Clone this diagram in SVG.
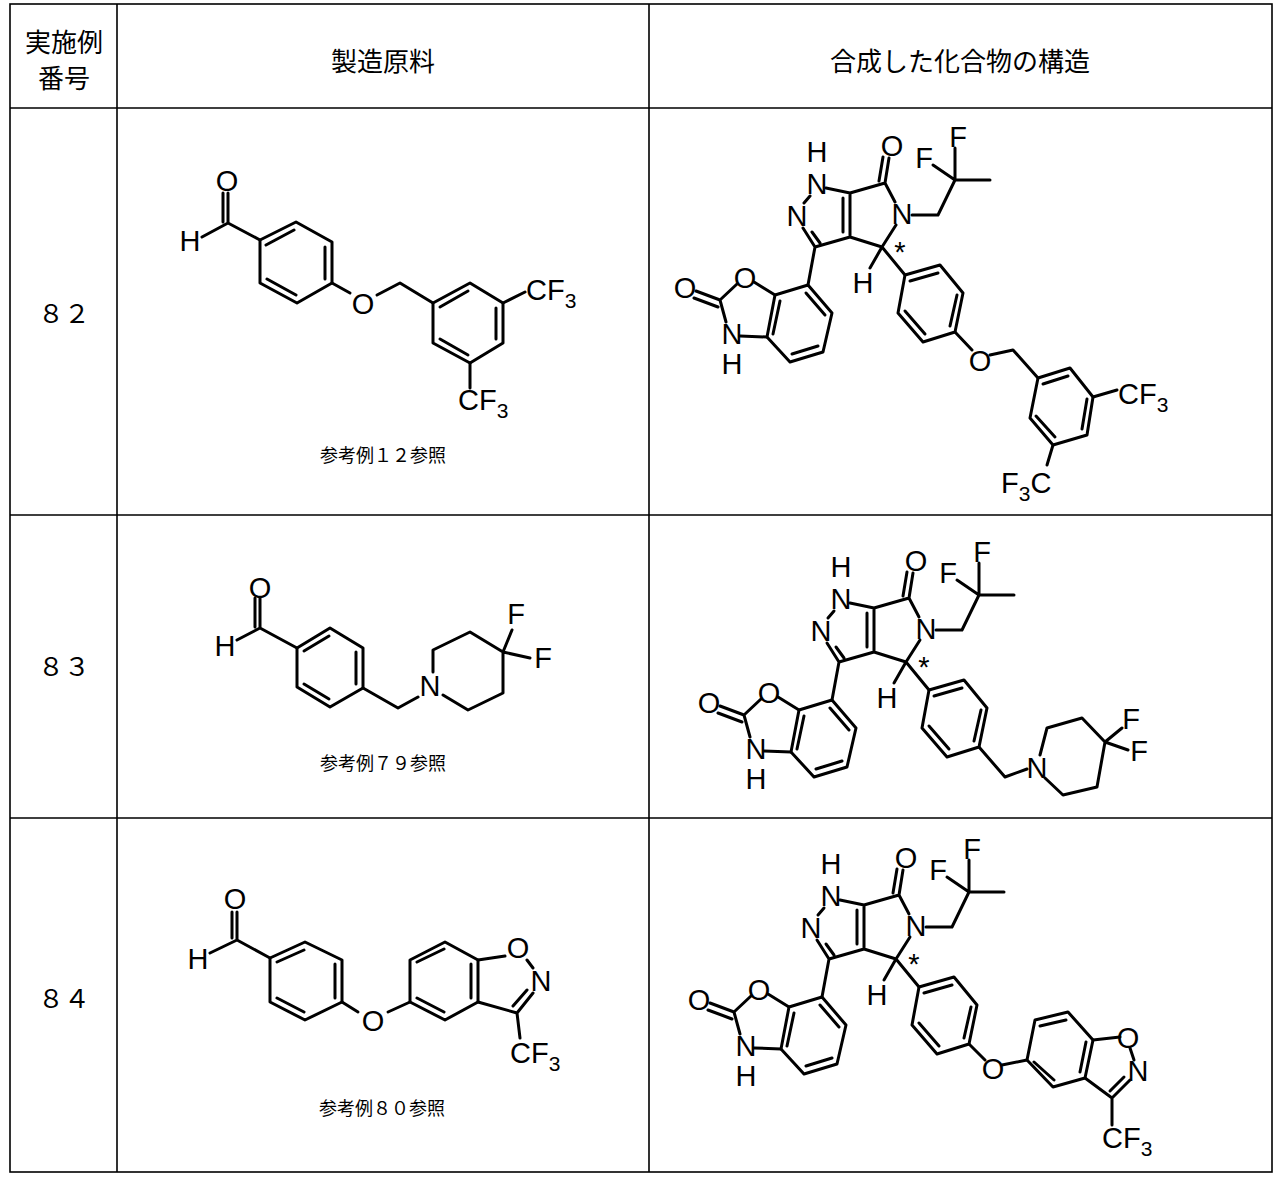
<svg xmlns="http://www.w3.org/2000/svg" xmlns:xlink="http://www.w3.org/1999/xlink" width="1285" height="1180" viewBox="0 0 1285 1180">
<style>
.b{stroke:#000;stroke-width:3;fill:none;stroke-linecap:round;stroke-linejoin:round}
.t{stroke:#000;stroke-width:1.6;fill:none}
.a{font-family:"Liberation Sans",Arial,sans-serif;font-size:29px;fill:#000;text-anchor:middle}
.as{font-family:"Liberation Sans",Arial,sans-serif;font-size:29px;fill:#000}
.j{font-family:"Liberation Serif","Noto Sans CJK JP",serif;font-size:26px;fill:#000;text-anchor:middle}
.c{font-family:"Liberation Serif","Noto Sans CJK JP",serif;font-size:18px;fill:#000;text-anchor:middle}
</style>
<defs>
<g id="core">
<path class="b" d="M826,188L850,193M810,196L804,203M803,228L815,247M812,232L820,243M815,247L850,237L850,193L885,183M843,232L843,198M885,183L889,158M879,181L883,157M885,183L895,202M896,225L882,247L850,237M912,215L938,215L955,180L990,180M955,180L933,165M955,180L955,148M882,247L870,268M882,247L905,275M815,247L808,285"/>
<path class="b" d="M808,285L832,313L823,352L790,362L767,337L775,295Z M806,293L825,315 M818,346L792,354 M773,334L780,301"/>
<path class="b" d="M775,295L754,282M737,284L720,300L726,322M740,336L767,337M720,300L696,291M718,307L694,298"/>
<path class="b" d="M905,275L940,265L963,293L955,332L923,342L898,313Z M910,281L938,273 M957,295L950,326 M925,334L905,311"/>
<text class="a" x="817" y="162">H</text>
<text class="a" x="817" y="194">N</text>
<text class="a" x="797" y="226">N</text>
<text class="a" x="902" y="224">N</text>
<text class="a" x="892" y="156">O</text>
<text class="a" x="924" y="168">F</text>
<text class="a" x="958" y="147">F</text>
<text class="a" x="900" y="262" font-size="34">*</text>
<text class="a" x="863" y="293">H</text>
<text class="a" x="745" y="288">O</text>
<text class="a" x="685" y="298">O</text>
<text class="a" x="732" y="344">N</text>
<text class="a" x="732" y="374">H</text>
</g>
</defs>
<g id="table">
<rect class="t" x="10" y="4" width="1262" height="1168"/>
<path class="t" d="M117,4V1172M649,4V1172M10,108H1272M10,515H1272M10,818H1272"/>
<text class="j" x="64" y="52">実施例</text>
<text class="j" x="64" y="88">番号</text>
<text class="j" x="383" y="71">製造原料</text>
<text class="j" x="960" y="71">合成した化合物の構造</text>
<text class="j" x="64" y="323">８２</text>
<text class="j" x="64" y="676">８３</text>
<text class="j" x="64" y="1008">８４</text>
</g>
<g id="reactant82">
<path class="b" d="M202,237L228,223L228,193M223,222L223,193M228,223L260,240"/>
<path class="b" d="M260,240L296,222L332,242L332,283L297,303L260,283Z M266,245L294,230 M325,247L325,279 M296,295L267,279"/>
<path class="b" d="M332,283L350,293M377,295L400,283L433,303"/>
<path class="b" d="M433,303L470,283L503,303L503,343L470,363L433,343Z M440,307L468,291 M496,308L496,339 M468,355L440,339"/>
<path class="b" d="M503,303L525,292M470,363L470,388"/>
<text class="a" x="227" y="191">O</text>
<text class="a" x="190" y="251">H</text>
<text class="a" x="363" y="314">O</text>
<text class="as" x="526" y="300">CF<tspan font-size="21" dy="8">3</tspan></text>
<text class="as" x="458" y="410">CF<tspan font-size="21" dy="8">3</tspan></text>
<text class="c" x="383" y="462">参考例１２参照</text>
</g>
<g id="reactant83">
<path class="b" d="M237,640L260,628L260,598M255,627L255,598M260,628L297,648"/>
<path class="b" d="M297,648L330,628L363,648L363,688L330,707L297,687Z M304,651L329,636 M356,652L356,684 M329,699L304,684"/>
<path class="b" d="M363,688L398,708L418,697M433,672L433,650L470,632L503,652L503,693L468,710L443,695M503,652L512,630M503,652L530,658"/>
<text class="a" x="260" y="598">O</text>
<text class="a" x="225" y="656">H</text>
<text class="a" x="430" y="696">N</text>
<text class="a" x="516" y="624">F</text>
<text class="a" x="543" y="668">F</text>
<text class="c" x="383" y="770">参考例７９参照</text>
</g>
<g id="reactant84">
<path class="b" d="M210,953L237,940L237,912M232,938L232,912M237,940L270,958"/>
<path class="b" d="M270,958L305,942L342,960L342,1002L305,1020L270,1002Z M277,962L304,950 M335,964L335,998 M304,1012L277,998"/>
<path class="b" d="M342,1002L358,1012M388,1012L410,1002"/>
<path class="b" d="M410,1002L410,960L445,942L478,960L478,1002L445,1020Z M417,962L444,949 M471,964L471,998 M444,1012L417,998"/>
<path class="b" d="M478,960L505,956M527,960L533,968M533,993L517,1013L478,1002M527,990L513,1006M517,1013L520,1038"/>
<text class="a" x="235" y="909">O</text>
<text class="a" x="198" y="969">H</text>
<text class="a" x="373" y="1031">O</text>
<text class="a" x="518" y="958">O</text>
<text class="a" x="541" y="991">N</text>
<text class="as" x="510" y="1063">CF<tspan font-size="21" dy="8">3</tspan></text>
<text class="c" x="382" y="1115">参考例８０参照</text>
</g>
<g id="product82">
<use xlink:href="#core"/>
<path class="b" d="M955,332L972,350M990,355L1013,350L1038,378"/>
<path class="b" d="M1038,378L1070,368L1093,397L1087,435L1053,445L1030,418Z M1043,384L1068,376 M1087,399L1082,429 M1055,437L1036,416"/>
<path class="b" d="M1093,397L1117,390M1053,445L1047,465"/>
<text class="a" x="980" y="371">O</text>
<text class="as" x="1118" y="404">CF<tspan font-size="21" dy="8">3</tspan></text>
<text class="as" x="1001" y="493">F<tspan font-size="21" dy="8">3</tspan><tspan dy="-8">C</tspan></text>
</g>
<g id="product83">
<use xlink:href="#core" transform="translate(24,415)"/>
<path class="b" d="M979,747L1005,777L1027,769M1040,755L1047,728L1082,718L1105,742L1097,787L1063,795L1045,778M1105,742L1122,728M1105,742L1128,750"/>
<text class="a" x="1037" y="778">N</text>
<text class="a" x="1131" y="729">F</text>
<text class="a" x="1139" y="761">F</text>
</g>
<g id="product84">
<use xlink:href="#core" transform="translate(14,712)"/>
<path class="b" d="M969,1044L985,1060M1002,1065L1027,1060"/>
<path class="b" d="M1027,1060L1035,1020L1068,1012L1093,1040L1085,1078L1053,1087Z M1040,1026L1066,1020 M1086,1042L1080,1072 M1054,1080L1034,1062"/>
<path class="b" d="M1093,1040L1120,1037M1130,1048L1134,1060M1130,1080L1112,1098L1085,1078M1124,1077L1110,1091M1112,1098L1112,1125"/>
<text class="a" x="993" y="1079">O</text>
<text class="a" x="1128" y="1048">O</text>
<text class="a" x="1138" y="1081">N</text>
<text class="as" x="1102" y="1148">CF<tspan font-size="21" dy="8">3</tspan></text>
</g>
</svg>
